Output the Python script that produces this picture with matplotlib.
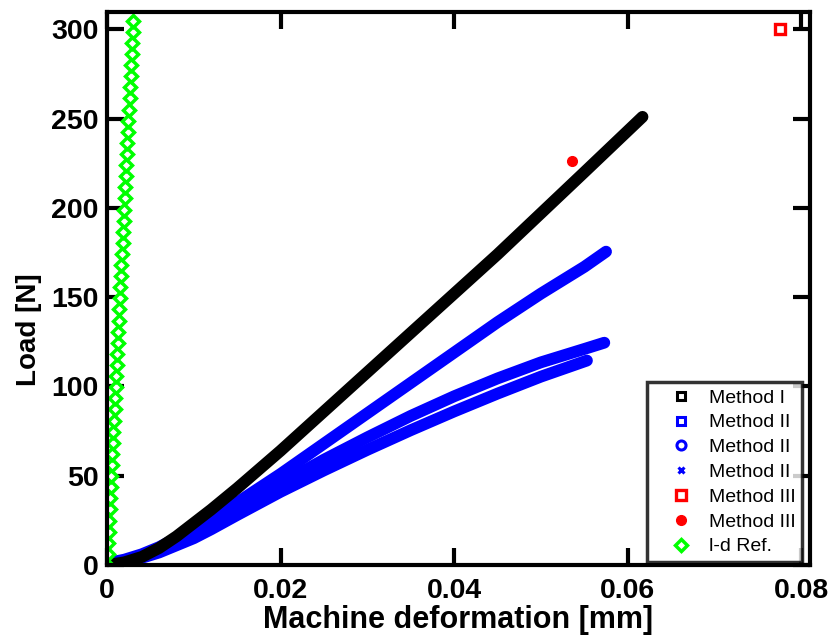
import numpy as np
import matplotlib.pyplot as plt
from matplotlib.lines import Line2D

# Method I (black squares)
m1_x = [0.0, 0.002, 0.004, 0.006, 0.008, 0.010, 0.012, 0.015, 0.020, 0.025,
        0.030, 0.035, 0.040, 0.045, 0.050, 0.055, 0.0617]
m1_y = [0, 1.5, 4.5, 9.5, 16, 23.5, 31, 43, 64, 86, 108, 130, 152, 174, 197, 220, 251]

# Method II (blue squares)
m2s_x = [0.0, 0.002, 0.004, 0.006, 0.008, 0.010, 0.012, 0.015, 0.020, 0.025,
         0.030, 0.035, 0.040, 0.045, 0.050, 0.055, 0.0575]
m2s_y = [1, 3, 6, 10, 15, 20, 25.5, 35, 51, 68, 85, 102, 119, 136, 152, 167, 175.5]

# Method II (blue circles)
m2c_x = [0.0, 0.002, 0.004, 0.006, 0.008, 0.010, 0.012, 0.015, 0.020, 0.025,
         0.030, 0.035, 0.040, 0.045, 0.050, 0.0553]
m2c_y = [0.5, 2, 4, 7, 11, 15, 20, 28, 41, 53, 64.5, 75.5, 86, 96, 105.5, 114.5]

# Method II (blue x)
m2x_x = [0.0, 0.002, 0.004, 0.006, 0.008, 0.010, 0.012, 0.015, 0.020, 0.025,
         0.030, 0.035, 0.040, 0.045, 0.050, 0.055, 0.0573]
m2x_y = [1, 2.5, 5, 8.5, 13, 18, 23, 31, 45.5, 59, 71.5, 83.5, 94.5, 104.5, 113.5, 121, 124.5]

# Method III
m3s_x = [0.0775]
m3s_y = [300]
m3d_x = [0.0536]
m3d_y = [226]

# l-d reference (green diamonds)
ref_y = [0, 6.2, 12.4, 18.7, 24.9, 31.1, 37.3, 43.6, 49.8, 56.0, 62.2, 68.5,
         74.7, 80.9, 87.1, 93.3, 99.6, 105.8, 112.0, 118.2, 124.5, 130.7, 136.9,
         143.1, 149.4, 155.6, 161.8, 168.0, 174.2, 180.5, 186.7, 192.9, 199.1,
         205.4, 211.6, 217.8, 224.0, 230.3, 236.5, 242.7, 248.9, 255.1, 261.4,
         267.6, 273.8, 280.0, 286.3, 292.5, 298.7, 304.9]
ref_x = [0, 0.00006, 0.00012, 0.00019, 0.00025, 0.00031, 0.00037, 0.00043,
         0.00050, 0.00056, 0.00062, 0.00068, 0.00074, 0.00080, 0.00087, 0.00093,
         0.00099, 0.00105, 0.00111, 0.00117, 0.00124, 0.00130, 0.00136, 0.00142,
         0.00149, 0.00155, 0.00161, 0.00167, 0.00173, 0.00179, 0.00186, 0.00192,
         0.00198, 0.00204, 0.00210, 0.00216, 0.00223, 0.00229, 0.00235, 0.00241,
         0.00247, 0.00254, 0.00260, 0.00266, 0.00272, 0.00278, 0.00285, 0.00291,
         0.00297, 0.00303]

labels = ['Method I', 'Method II', 'Method II', 'Method II',
          'Method III', 'Method III', 'l-d Ref.']

plt.rcParams['font.family'] = ['Liberation Sans', 'DejaVu Sans']

fig = plt.figure(figsize=(8.34, 6.39), dpi=100)
ax = fig.add_axes([107 / 834, 1 - 565 / 639, 703 / 834, 553.5 / 639])

blue = '#0000ff'
green = '#00ff00'
band = dict(lw=8.5, solid_capstyle='round', solid_joinstyle='round')

# thick bands (dense overlapping markers in the original)
ax.plot(m2c_x, m2c_y, color=blue, **band)
ax.plot(m2x_x, m2x_y, color=blue, **band)
ax.plot(m2s_x, m2s_y, color=blue, **band)
ax.plot(m1_x, m1_y, color='black', **band)

ax.plot(m3s_x, m3s_y, ls='none', marker='s', ms=6.5, mew=2.4, mfc='white', mec='red')
ax.plot(m3d_x, m3d_y, ls='none', marker='o', ms=7, color='red')
ax.plot(ref_x, ref_y, ls='none', marker='D', ms=6, mew=2.5, mfc='white', mec=green)

ax.set_xlim(0, 0.081)
ax.set_ylim(0, 310)
ax.set_xticks([0, 0.02, 0.04, 0.06, 0.08])
ax.set_xticklabels(['0', '0.02', '0.04', '0.06', '0.08'])
ax.set_yticks([0, 50, 100, 150, 200, 250, 300])

for s in ax.spines.values():
    s.set_linewidth(3)
ax.tick_params(direction='in', length=12, width=3, top=True, right=True,
               labelsize=20.5, pad=6)
ax.tick_params(axis='x', pad=9)
for lab in ax.get_xticklabels() + ax.get_yticklabels():
    lab.set_fontweight('bold')

ax.set_xlabel('Machine deformation [mm]', fontsize=22, fontweight='bold', labelpad=1)
ax.set_ylabel('Load [N]', fontsize=20, fontweight='bold')
ax.yaxis.set_label_coords(-0.0925, 0.425)

# legend entries show the marker styles of each series
handles = [
    Line2D([], [], ls='none', marker='s', ms=6, mew=2.2, mfc='none', mec='black'),
    Line2D([], [], ls='none', marker='s', ms=6, mew=2.2, mfc='none', mec=blue),
    Line2D([], [], ls='none', marker='o', ms=6.5, mew=2.2, mfc='none', mec=blue),
    Line2D([], [], ls='none', marker='x', ms=5, mew=2.2, color=blue),
    Line2D([], [], ls='none', marker='s', ms=6.5, mew=2.4, mfc='white', mec='red'),
    Line2D([], [], ls='none', marker='o', ms=7, color='red'),
    Line2D([], [], ls='none', marker='D', ms=6, mew=2.5, mfc='white', mec=green),
]
leg = ax.legend(handles, labels, loc='lower right', bbox_to_anchor=(0.989, 0.005),
                borderaxespad=0, fontsize=14, frameon=True, fancybox=False,
                edgecolor='black', labelspacing=0.37, handletextpad=0.1,
                handlelength=2.7, borderpad=0.35)
leg.get_frame().set_linewidth(2.5)

plt.savefig('out.png', dpi=100)
